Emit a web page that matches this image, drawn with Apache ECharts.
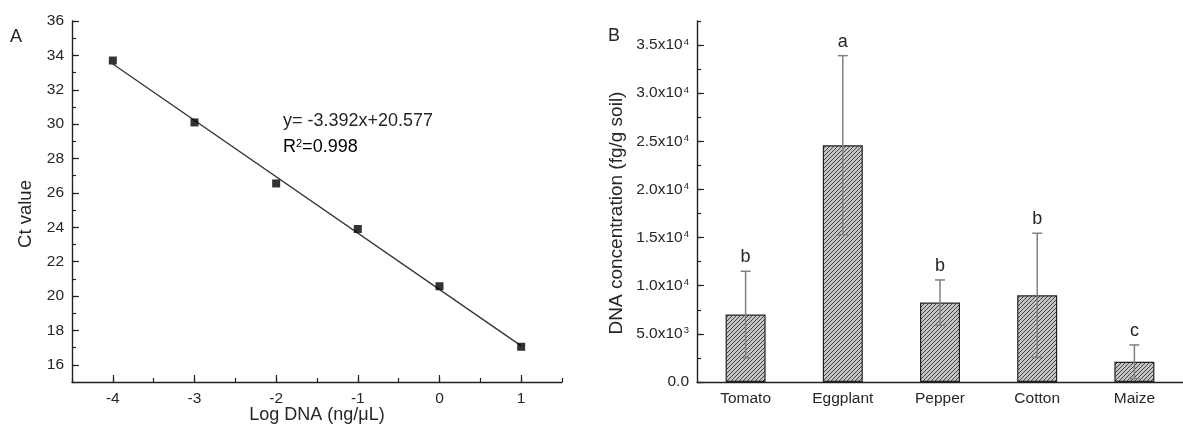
<!DOCTYPE html>
<html>
<head>
<meta charset="utf-8">
<script src="https://cdn.jsdelivr.net/npm/echarts@6/dist/echarts.min.js"></script>
<style>
    html, body { margin: 0; background: #fff; }
    #main { width: 1183px; height: 440px; }
</style>
</head>
<body>
<div id="main"></div>
<script>
// panel A: standard curve
const logDna = [-4, -3, -2, -1, 0, 1]
const ctValues = [33.7, 30.1, 26.55, 23.9, 20.57, 17.05]
const fitLine = [[-4, 33.5], [1, 17.1]]
const ctTicks = [16, 18, 20, 22, 24, 26, 28, 30, 32, 34, 36]
const logTicks = [-4, -3, -2, -1, 0, 1]

// panel B: DNA concentration per crop
const crops = ["Tomato", "Eggplant", "Pepper", "Cotton", "Maize"]
const dnaConc = [7000, 24600, 8250, 9000, 2100]
const dnaErr = [4500, 9300, 2350, 6450, 1750]
const groups = ["b", "a", "b", "b", "c"]
const concTicks = [0, 5000, 10000, 15000, 20000, 25000, 30000, 35000]

const FONT = "'Liberation Sans', Arial, sans-serif"
const TXT = "#262626"
const AXIS = "#222"
const TICK_FS = 15.5

// hatch fill for the bars
const makeHatch = () => {
    const c = document.createElement("canvas")
    c.width = 4
    c.height = 4
    const ctx = c.getContext("2d")
    ctx.fillStyle = "#c4c4c4"
    ctx.fillRect(0, 0, 4, 4)
    ctx.strokeStyle = "#444"
    ctx.lineWidth = 1
    ctx.beginPath()
    ctx.moveTo(0, 4); ctx.lineTo(4, 0)
    ctx.moveTo(-1, 1); ctx.lineTo(1, -1)
    ctx.moveTo(3, 5); ctx.lineTo(5, 3)
    ctx.stroke()
    return c
}

const concLabel = v => {
    if (v === 0) return "{m|0.0}"
    const e = Math.floor(Math.log10(v))
    return "{m|" + (v / Math.pow(10, e)).toFixed(1) + "x10}{s|" + e + "}"
}

const labelRich = {
    m: { fontSize: TICK_FS, fontFamily: FONT, color: TXT },
    s: { fontSize: 9.5, fontFamily: FONT, color: TXT, verticalAlign: "top", padding: [0, 0, 0, 1] }
}

// minor-tick axis (line + labels) and a twin that only draws the long ticks
const minorAxis = (extra) => Object.assign({
    axisLine: { show: true, onZero: false, lineStyle: { color: AXIS, width: 1.4 } },
    axisTick: { show: true, inside: true, length: 4, lineStyle: { color: AXIS, width: 1.2 } },
    splitLine: { show: false },
    axisLabel: { margin: 8, fontSize: TICK_FS, fontFamily: FONT, color: TXT }
}, extra)

const majorAxis = (extra) => Object.assign({
    axisLine: { show: false, onZero: false },
    axisTick: { show: true, inside: true, length: 7, lineStyle: { color: AXIS, width: 1.2 } },
    splitLine: { show: false },
    axisLabel: { show: false }
}, extra)

const myChart = echarts.init(document.getElementById("main"))

const option = {
    animation: false,
    backgroundColor: "#fff",
    grid: [
        { left: 72, top: 21, width: 490, height: 361 },
        { left: 697, top: 21, width: 490, height: 361 }
    ],
    xAxis: [
        minorAxis({
            type: "value", gridIndex: 0, min: -4.5, max: 1.5, interval: 0.5,
            axisLabel: { margin: 9, fontSize: TICK_FS, fontFamily: FONT, color: TXT, customValues: logTicks }
        }),
        majorAxis({
            type: "value", gridIndex: 0, min: -4.5, max: 1.5, position: "bottom",
            axisTick: { show: true, inside: true, length: 7, customValues: logTicks, lineStyle: { color: AXIS, width: 1.2 } }
        }),
        {
            type: "category", gridIndex: 1, data: crops,
            axisLine: { show: true, lineStyle: { color: AXIS, width: 1.4 } },
            axisTick: { show: false },
            axisLabel: { margin: 9, fontSize: TICK_FS, fontFamily: FONT, color: TXT }
        }
    ],
    yAxis: [
        minorAxis({
            type: "value", gridIndex: 0, min: 15, max: 36, interval: 1,
            axisLabel: { margin: 8, fontSize: TICK_FS, fontFamily: FONT, color: TXT, customValues: ctTicks }
        }),
        majorAxis({
            type: "value", gridIndex: 0, min: 15, max: 36, position: "left",
            axisTick: { show: true, inside: true, length: 7, customValues: ctTicks, lineStyle: { color: AXIS, width: 1.2 } }
        }),
        minorAxis({
            type: "value", gridIndex: 1, min: 0, max: 37500, interval: 2500,
            axisLabel: { margin: 8, customValues: concTicks, formatter: concLabel, rich: labelRich }
        }),
        majorAxis({
            type: "value", gridIndex: 1, min: 0, max: 37500, position: "left",
            axisTick: { show: true, inside: true, length: 7, customValues: concTicks, lineStyle: { color: AXIS, width: 1.2 } }
        })
    ],
    series: [
        {
            type: "line", xAxisIndex: 0, yAxisIndex: 0,
            data: fitLine, showSymbol: false, symbol: "none",
            lineStyle: { color: "#333", width: 1.3 }, z: 2
        },
        {
            type: "scatter", xAxisIndex: 0, yAxisIndex: 0,
            data: logDna.map((x, i) => [x, ctValues[i]]),
            symbol: "rect", symbolSize: 8,
            itemStyle: { color: "#000" }, z: 3
        },
        {
            type: "bar", xAxisIndex: 2, yAxisIndex: 2,
            data: dnaConc, barWidth: 40,
            itemStyle: { color: { image: makeHatch(), repeat: "repeat" }, borderColor: "#222", borderWidth: 1.2 }
        },
        {
            type: "custom", xAxisIndex: 2, yAxisIndex: 2, z: 5,
            data: crops.map((c, i) => [i, dnaConc[i], dnaErr[i]]),
            renderItem: (params, api) => {
                const i = api.value(0)
                const v = api.value(1)
                const e = api.value(2)
                const top = api.coord([i, v + e])
                const bot = api.coord([i, v - e])
                const style = { stroke: "#808080", lineWidth: 1.5 }
                return {
                    type: "group",
                    children: [
                        { type: "line", shape: { x1: top[0], y1: top[1], x2: bot[0], y2: bot[1] }, style },
                        { type: "line", shape: { x1: top[0] - 5, y1: top[1], x2: top[0] + 5, y2: top[1] }, style },
                        { type: "line", shape: { x1: bot[0] - 5, y1: bot[1], x2: bot[0] + 5, y2: bot[1] }, style },
                        {
                            type: "text",
                            style: {
                                text: groups[params.dataIndex], x: top[0], y: top[1] - 14,
                                textAlign: "center", textVerticalAlign: "middle",
                                fontSize: 18, fontFamily: FONT, fill: TXT
                            }
                        }
                    ]
                }
            }
        }
    ],
    graphic: [
        { type: "text", left: 10, top: 28, style: { text: "A", fontSize: 18, fontFamily: FONT, fill: TXT } },
        { type: "text", left: 608, top: 27, style: { text: "B", fontSize: 18, fontFamily: FONT, fill: TXT } },
        {
            type: "text", x: 283, y: 121,
            style: { text: "y= -3.392x+20.577", fontSize: 18, fontFamily: FONT, fill: TXT, textVerticalAlign: "middle" }
        },
        {
            type: "text", x: 283, y: 147,
            style: {
                text: "{m|R}{s|2}{m|=0.998}", textVerticalAlign: "middle",
                rich: {
                    m: { fontSize: 18, fontFamily: FONT, color: TXT },
                    s: { fontSize: 11, fontFamily: FONT, color: TXT, verticalAlign: "top" }
                }
            }
        },
        {
            type: "text", x: 26, y: 214, rotation: Math.PI / 2,
            style: { text: "Ct value", fontSize: 18.5, fontFamily: FONT, fill: TXT, textAlign: "center", textVerticalAlign: "middle" }
        },
        {
            type: "text", x: 317, y: 415,
            style: { text: "Log DNA (ng/μL)", fontSize: 18, fontFamily: FONT, fill: TXT, textAlign: "center", textVerticalAlign: "middle" }
        },
        {
            type: "text", x: 617, y: 213, rotation: Math.PI / 2,
            style: { text: "DNA concentration (fg/g soil)", fontSize: 19, fontFamily: FONT, fill: TXT, textAlign: "center", textVerticalAlign: "middle" }
        }
    ]
}

myChart.setOption(option)
</script>
</body>
</html>
